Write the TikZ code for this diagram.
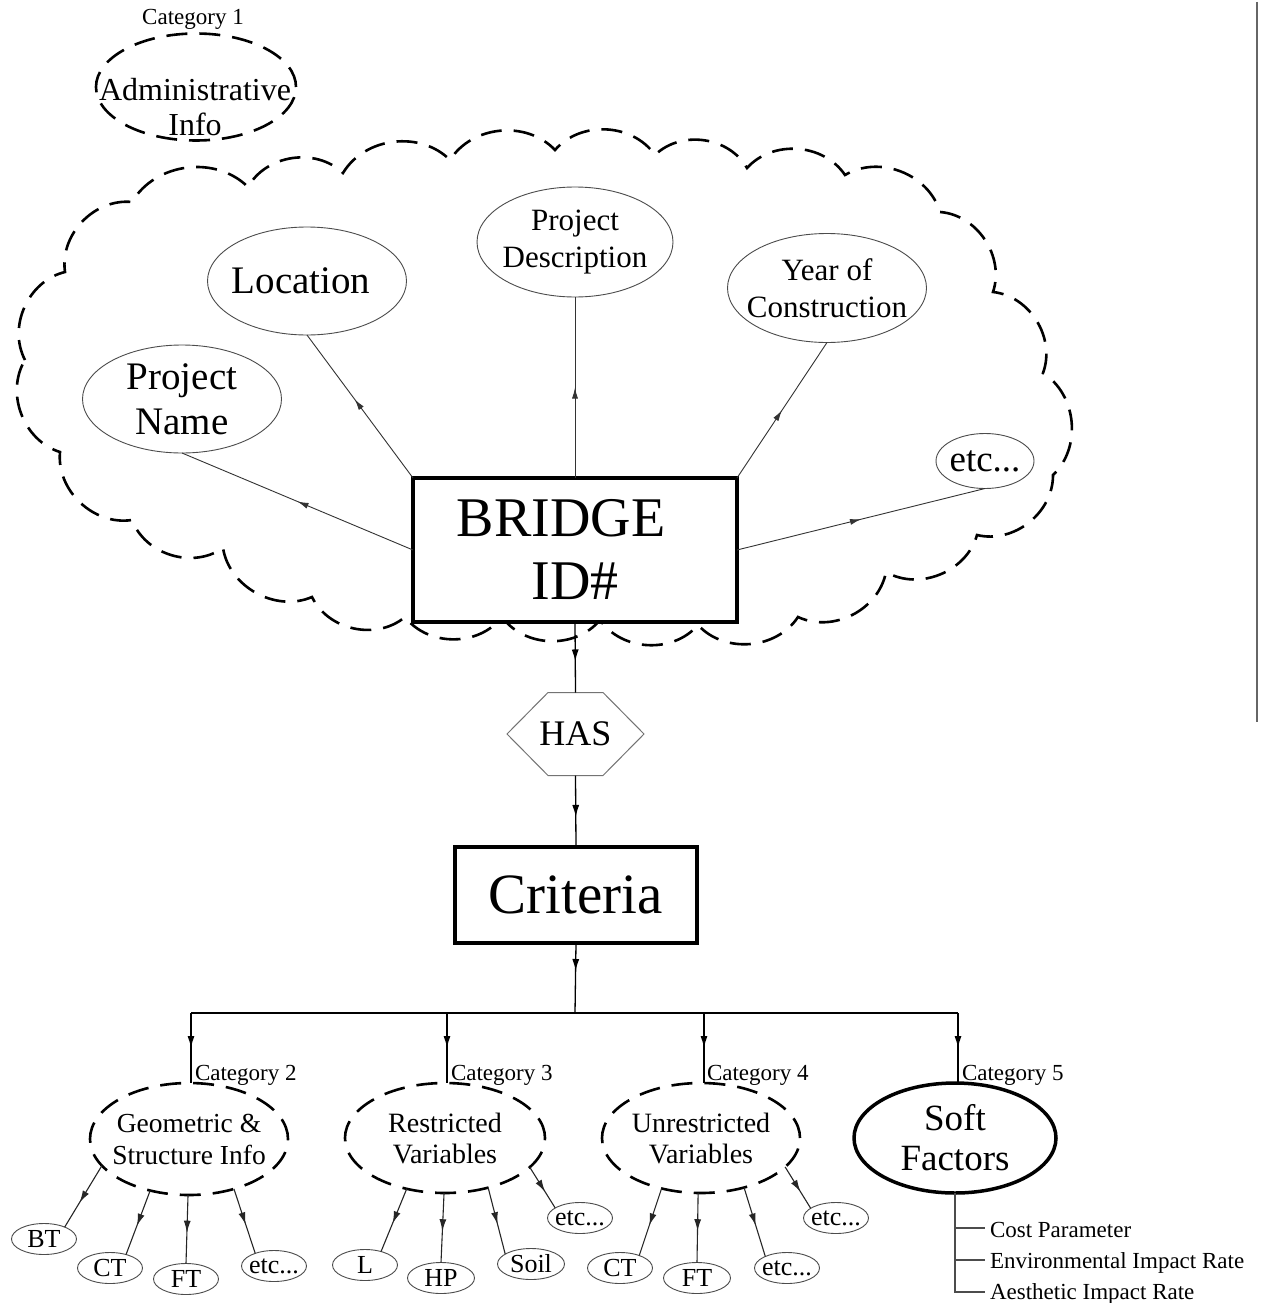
\documentclass[tikz,border=0pt]{standalone}
\usepackage{fontspec}
\setmainfont{Liberation Serif}
\usetikzlibrary{shapes.geometric,arrows.meta,decorations.markings,calc}

\newcommand{\fsz}[2]{\fontsize{#1}{#2}\selectfont}

\begin{document}
\begin{tikzpicture}[x=1pt,y=1pt,
  every node/.style={inner sep=0pt, outer sep=0pt},
  % negative inner sep keeps the ellipse at its minimum size whatever the text
  fixed/.style={inner sep=-45pt, align=center},
  attr/.style={ellipse, fixed, draw=black!70, line width=0.9pt},
  leaf/.style={attr, minimum width=65pt, minimum height=31pt, font=\fsz{26}{28}},
  catdash/.style={ellipse, fixed, draw=black, line width=2.6pt, dash pattern=on 21pt off 12pt},
  bigbox/.style={rectangle, align=center, draw=black, line width=4pt, fill=white},
  link/.style={draw=black!80, line width=0.9pt},
  vlink/.style={draw=black, line width=1.3pt},
  leaflink/.style={draw=black!85, line width=1.1pt},
  hexline/.style={draw=black!55, line width=1pt},
  listline/.style={draw=black!70, line width=1.4pt},
  cloudline/.style={draw=black, line width=2.6pt, dash pattern=on 21pt off 12pt},
  lobe/.style={bend left=52},
  midarrow/.style={postaction={decorate}, decoration={markings, mark=at position #1 with {\arrow{Latex[length=11pt,width=6pt]}}}},
  bigarrow/.style={postaction={decorate}, decoration={markings, mark=at position #1 with {\arrow{Latex[length=12pt,width=7pt]}}}},
]
\fill[white] (0,0) rectangle (1262,-1303);
\useasboundingbox (0,0) rectangle (1262,-1303);

% ---- category 1 ----
\node[font=\fsz{23}{26}] (cat1) at (193,-19) {Category 1};
\node[catdash, minimum width=200pt, minimum height=107pt] (admin) at (196,-87) {};
\node[font=\fsz{32}{35}, align=center] (admintext) at (195,-107) {Administrative\\Info};

% ---- cloud around the administrative attributes ----
\draw[cloudline] (25,-360) to[lobe] (65,-272) to[lobe] (132,-202)
  to[lobe] (248,-187) to[lobe] (343,-173) to[lobe] (450,-160)
  to[lobe] (555,-150) to[lobe] (655,-155) to[lobe] (747,-168)
  to[lobe] (845,-175) to[lobe] (940,-212) to[lobe] (993,-292)
  to[lobe] (1043,-373) to[lobe] (1053,-475) to[lobe] (977,-535)
  to[lobe] (886,-572) to[lobe] (798,-617) to[lobe] (698,-625)
  to[lobe] (600,-620) to[lobe] (502,-617) to[lobe] (405,-617)
  to[lobe] (312,-597) to[lobe] (223,-548) to[lobe] (132,-520)
  to[lobe] (60,-452) to[lobe] (25,-360);

% ---- attributes ----
\node[attr, minimum width=199pt, minimum height=108pt, font=\fsz{39}{45}] (pname) at (182,-399) {Project\\Name};
\node[attr, minimum width=199pt, minimum height=108pt, font=\fsz{39}{45}] (loc) at (307,-281) {Location\hspace*{12pt}};
\node[attr, minimum width=196pt, minimum height=110pt, font=\fsz{31}{37}] (desc) at (575,-242) {Project\\Description};
\node[attr, minimum width=199pt, minimum height=109pt, font=\fsz{31}{37}] (year) at (827,-288) {Year of\\Construction};
\node[attr, minimum width=98pt, minimum height=55pt, font=\fsz{37}{40}] (etctop) at (985,-461) {etc...};

% ---- entity ----
\node[bigbox, minimum width=324pt, minimum height=144pt, font=\fsz{56}{63}] (bridge) at (575,-550) {BRIDGE\hspace*{28pt}\\ID\#};

\draw[link, midarrow=0.5] (bridge.west) -- (pname.south);
\draw[link, midarrow=0.55] (bridge.north west) -- (loc.south);
\draw[link, midarrow=0.5] (bridge.north) -- (desc.south);
\draw[link, midarrow=0.5] (bridge.north east) -- (year.south);
\draw[link, midarrow=0.5] (bridge.east) -- (etctop.south);

% ---- relationship ----
\node[minimum height=83pt, font=\fsz{36}{40}] (has) at (575.5,-734) {HAS};
\draw[hexline] ($(has.north)+(-27.5,0)$) -- ($(has.north)+(27.5,0)$) -- ($(has.center)+(68.5,0)$)
  -- ($(has.south)+(27.5,0)$) -- ($(has.south)+(-27.5,0)$) -- ($(has.center)+(-68.5,0)$) -- cycle;

\node[bigbox, minimum width=242pt, minimum height=96pt, font=\fsz{57}{60}] (crit) at (576,-895) {Criteria};

\draw[vlink, bigarrow=0.56] (bridge.south) -- (has.north);
\draw[vlink, bigarrow=0.58] (has.south) -- (crit.north);

% ---- distribution bus ----
\coordinate (bus) at (575,-1013);
\coordinate (b2) at (191,-1013);
\coordinate (b3) at (447,-1013);
\coordinate (b4) at (704,-1013);
\coordinate (b5) at (958,-1013);
\draw[vlink, bigarrow=0.4] (crit.south) -- (bus);
\draw[vlink] (b2) -- (b5);

% ---- categories 2 to 5 ----
\node[catdash, minimum width=198pt, minimum height=112pt, font=\fsz{27.5}{32}] (geo) at (189,-1139) {Geometric \&\\Structure Info};
\node[catdash, minimum width=200pt, minimum height=110pt, font=\fsz{28}{31}] (restr) at (445,-1138) {Restricted\\Variables};
\node[catdash, minimum width=198pt, minimum height=110pt, font=\fsz{28}{31}] (unres) at (701,-1138) {Unrestricted\\Variables};
\node[ellipse, fixed, draw=black, line width=3.5pt, minimum width=202pt, minimum height=110pt, font=\fsz{37}{40}] (soft) at (955,-1138) {Soft\\Factors};

\draw[vlink, bigarrow=0.5] (b2) -- (b2 |- geo.north);
\draw[vlink, bigarrow=0.5] (b3) -- (b3 |- restr.north);
\draw[vlink, bigarrow=0.5] (b4) -- (b4 |- unres.north);
\draw[vlink, bigarrow=0.5] (b5) -- (b5 |- soft.north);

\node[font=\fsz{23}{26}, anchor=west] (cat2) at (195,-1075) {Category 2};
\node[font=\fsz{23}{26}, anchor=west] (cat3) at (451,-1075) {Category 3};
\node[font=\fsz{23}{26}, anchor=west] (cat4) at (707,-1075) {Category 4};
\node[font=\fsz{23}{26}, anchor=west] (cat5) at (962,-1075) {Category 5};

% ---- leaves of category 2 ----
\node[leaf] (bt)   at (44,-1239)  {BT};
\node[leaf] (ct1)  at (110,-1268) {CT};
\node[leaf] (ft1)  at (186,-1279) {FT};
\node[leaf] (etc2) at (274,-1266) {etc...};
\draw[leaflink, bigarrow=0.6] (geo.-163) -- (bt.30);
\draw[leaflink, bigarrow=0.55] (geo.-127) -- (ct1.40);
\draw[leaflink, bigarrow=0.55] (geo.-91) -- (ft1.north);
\draw[leaflink, bigarrow=0.55] (geo.-48) -- (etc2.146);

% ---- leaves of category 3 ----
\node[leaf] (lv)   at (365,-1265) {L};
\node[leaf, minimum width=67pt] (hp)   at (441,-1278) {HP};
\node[leaf, minimum width=67pt] (soil) at (531,-1264) {Soil};
\node[leaf] (etc3) at (580,-1218) {etc...};
\draw[leaflink, bigarrow=0.55] (restr.-127) -- (lv.40);
\draw[leaflink, bigarrow=0.55] (restr.-91) -- (hp.north);
\draw[leaflink, bigarrow=0.55] (restr.-49) -- (soil.159);
\draw[leaflink, bigarrow=0.6] (restr.-19) -- (etc3.158);

% ---- leaves of category 4 ----
\node[leaf] (ct2)  at (620,-1268) {CT};
\node[leaf, minimum width=67pt] (ft2)  at (697,-1278) {FT};
\node[leaf] (etc4) at (787,-1268) {etc...};
\node[leaf] (etc5) at (836,-1218) {etc...};
\draw[leaflink, bigarrow=0.55] (unres.-128) -- (ct2.33);
\draw[leaflink, bigarrow=0.55] (unres.-93) -- (ft2.north);
\draw[leaflink, bigarrow=0.55] (unres.-49) -- (etc4.152);
\draw[leaflink, bigarrow=0.6] (unres.-19) -- (etc5.159);

% ---- soft factor list ----
\node[font=\fsz{23}{26}, anchor=base west] (cost) at (990,-1237) {Cost Parameter};
\node[font=\fsz{23}{26}, anchor=base west] (env)  at (990,-1268) {Environmental Impact Rate};
\node[font=\fsz{23}{26}, anchor=base west] (aes)  at (990,-1299) {Aesthetic Impact Rate};
\coordinate (costpt) at ($(cost.base west)+(-5,9)$);
\coordinate (envpt)  at ($(env.base west)+(-5,8)$);
\coordinate (aespt)  at ($(aes.base west)+(-5,7)$);
\draw[listline] (soft.south) |- (aespt);
\draw[listline] (soft.south |- costpt) -- (costpt);
\draw[listline] (soft.south |- envpt) -- (envpt);

% ---- page rule ----
\coordinate (edgetop) at (1257,-2);
\coordinate (edgebot) at (1257,-722);
\draw[black!60, line width=2pt] (edgetop) -- (edgebot);
\end{tikzpicture}
\end{document}
